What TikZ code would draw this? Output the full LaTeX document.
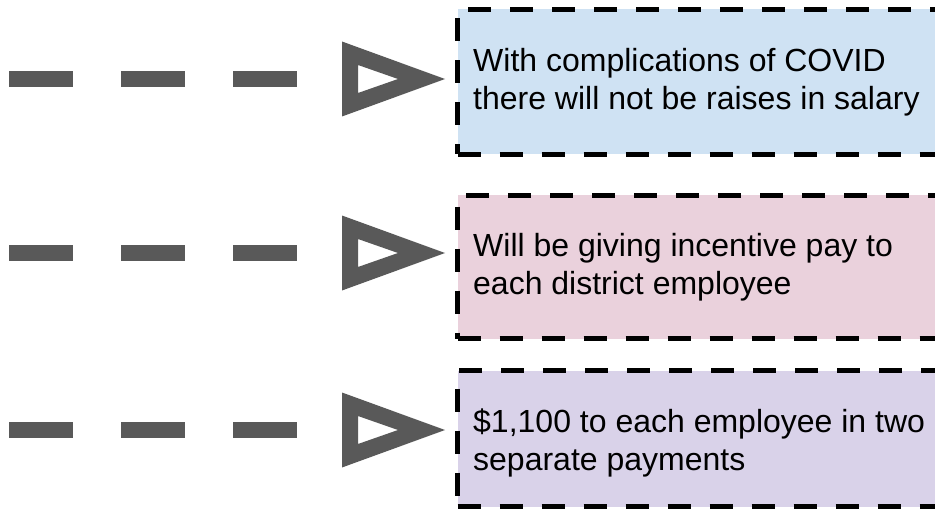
\documentclass[tikz,border=0pt]{standalone}
\usepackage{fontspec}
\setmainfont{Liberation Sans}
\usetikzlibrary{calc}
\definecolor{boxblue}{HTML}{CFE2F3}
\definecolor{boxpink}{HTML}{EAD1DC}
\definecolor{boxlilac}{HTML}{D9D2E9}
\definecolor{arrowgray}{HTML}{595959}
\begin{document}
\begin{tikzpicture}[x=1pt,y=-1pt,
  conn/.style={draw=arrowgray, line width=16pt, dash pattern=on 64pt off 48pt},
  tiphead/.style={fill=arrowgray, even odd rule},
  boxframe/.style={draw=black, line width=5pt, dash pattern=on 23pt off 19pt,
    minimum width=490pt, anchor=north west, inner sep=0pt},
  txt/.style={anchor=base west, inner sep=0pt, font=\fontsize{32pt}{38pt}\selectfont}]
\useasboundingbox (0,0) rectangle (935,516);

% boxes
\node[boxframe, fill=boxblue, minimum height=145pt] (b1) at (455,7) {};
\node[boxframe, fill=boxpink, minimum height=143pt] (b2) at (455,193) {};
\node[boxframe, fill=boxlilac, minimum height=136pt] (b3) at (455,368) {};

% texts
\node[txt] (x1a) at (473,72) {With complications of COVID};
\node[txt] (x1b) at (473,110) {there will not be raises in salary};
\node[txt] (x2a) at (473,256) {Will be giving incentive pay to};
\node[txt] (x2b) at (473,294) {each district employee};
\node[txt] (x3a) at (473,432) {\$1,100 to each employee in two};
\node[txt] (x3b) at (473,470) {separate payments};

% connectors
\foreach \i/\y in {1/79,2/253,3/430}{
  \coordinate (s\i) at (9,\y);
  \coordinate (t\i) at ($(b\i.west |- s\i)+(-10,0)$);
  \draw[conn] (s\i) -- ($(t\i)+(-103,0)$);
  \fill[tiphead] (t\i) -- ++(-103,-37.5) -- ++(0,75) -- cycle
    ($(t\i)+(-47,0)$) -- ++(-40,-14) -- ++(0,28) -- cycle;
}
\end{tikzpicture}
\end{document}
